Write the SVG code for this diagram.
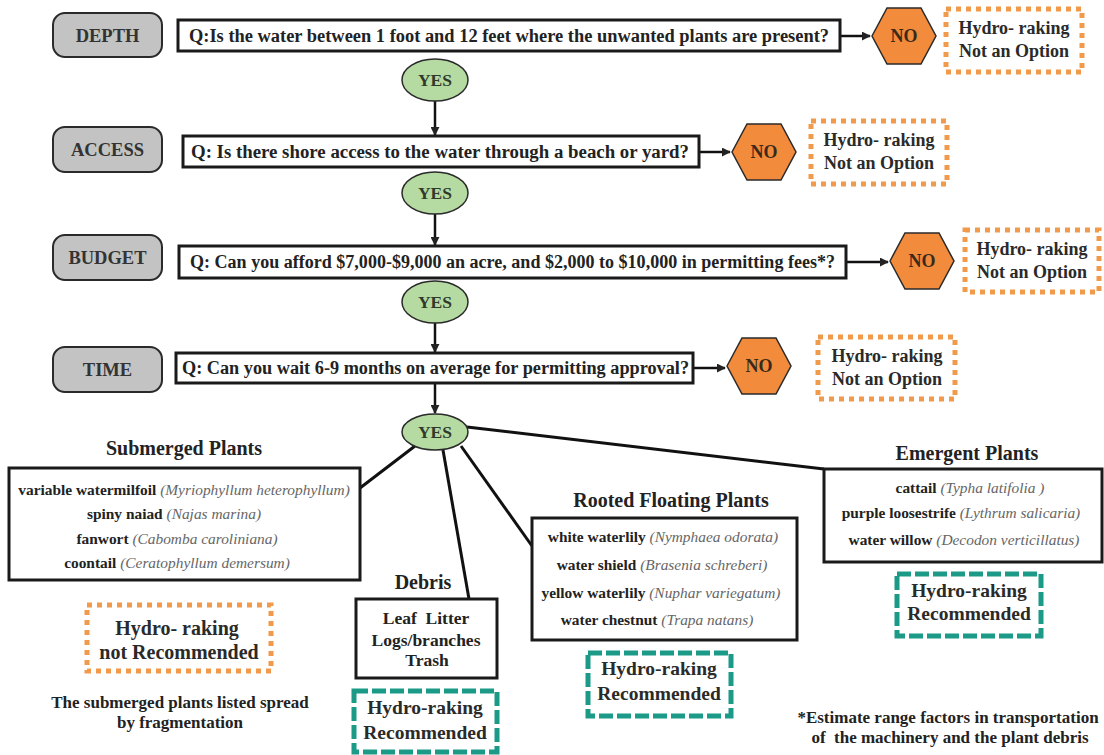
<svg xmlns="http://www.w3.org/2000/svg" width="1104" height="755" viewBox="0 0 1104 755" font-family="'Liberation Serif', 'Times New Roman', serif" font-weight="bold">
<defs>
<marker id="ah" viewBox="0 0 10 10" refX="9" refY="5" markerWidth="9" markerHeight="9" markerUnits="userSpaceOnUse" orient="auto">
<path d="M0,0 L10,5 L0,10 z" fill="#222"/>
</marker>
<style>
text{fill:#222}
.lbl{fill:#c3c3c3;stroke:#2a2a2a;stroke-width:2}
.lt{font-size:18.5px;text-anchor:middle;fill:#333}
.q{fill:#fff;stroke:#1a1a1a;stroke-width:3}
.qt{font-size:18px}
.yes{fill:#b6dba2;stroke:#2a2a2a;stroke-width:1.5}
.yt{font-size:17.5px;text-anchor:middle;fill:#2f3a2a}
.hex{fill:#f28b3c;stroke:#2a2a2a;stroke-width:1.5}
.nt{font-size:18px;text-anchor:middle;fill:#3a2a1a}
.dot{fill:#fff;stroke:#f29a4c;stroke-width:5;stroke-dasharray:5 5}
.dash{fill:#fff;stroke:#1c9a88;stroke-width:5;stroke-dasharray:14 4}
.ht{font-size:18px;text-anchor:middle;fill:#2a2a2a}
.tt{font-size:19.5px;text-anchor:middle;fill:#2a2a2a}
.box{fill:#fff;stroke:#1a1a1a;stroke-width:3}
.title{font-size:20px;text-anchor:middle}
.it{font-size:15.4px;text-anchor:middle}
.db{font-size:17.5px;text-anchor:middle}
.sci{font-style:italic;font-weight:normal;fill:#666}
.cap{font-size:17px;text-anchor:middle}
.con line{stroke:#111;stroke-width:2.5}
.con .br{stroke-width:3}
</style>
</defs>
<rect width="1104" height="755" fill="#fff"/>

<!-- connectors -->
<g id="connectors" class="con">
<line x1="840" y1="36" x2="870" y2="36" marker-end="url(#ah)"/>
<line x1="699" y1="152" x2="730" y2="152" marker-end="url(#ah)"/>
<line x1="846" y1="262" x2="888" y2="262" marker-end="url(#ah)"/>
<line x1="693" y1="368" x2="725" y2="368" marker-end="url(#ah)"/>
<line x1="435" y1="101" x2="435" y2="135" marker-end="url(#ah)"/>
<line x1="435" y1="214" x2="435" y2="245" marker-end="url(#ah)"/>
<line x1="435" y1="323" x2="435" y2="352" marker-end="url(#ah)"/>
<line x1="435" y1="384" x2="435" y2="413" marker-end="url(#ah)"/>
<line class="br" x1="415" y1="446" x2="360" y2="488"/>
<line class="br" x1="443" y1="450" x2="469" y2="599"/>
<line class="br" x1="461" y1="446" x2="532" y2="546"/>
<line class="br" x1="467" y1="427" x2="824" y2="469"/>
</g>

<!-- labels -->
<g id="lbl-depth"><rect class="lbl" x="53" y="13" width="109" height="44" rx="12"/><text class="lt" x="107.5" y="41.5">DEPTH</text></g>
<g id="lbl-access"><rect class="lbl" x="53" y="127" width="109" height="45" rx="12"/><text class="lt" x="107.5" y="155.5">ACCESS</text></g>
<g id="lbl-budget"><rect class="lbl" x="53" y="235" width="109" height="45" rx="12"/><text class="lt" x="107.5" y="263.5">BUDGET</text></g>
<g id="lbl-time"><rect class="lbl" x="53" y="347" width="109" height="45" rx="12"/><text class="lt" x="107.5" y="375.5">TIME</text></g>

<!-- questions -->
<g id="q-depth"><rect class="q" x="178" y="20" width="662" height="31"/><text class="qt" x="189" y="42" textLength="640" lengthAdjust="spacingAndGlyphs">Q:Is the water between 1 foot and 12 feet where the unwanted plants are present?</text></g>
<g id="q-access"><rect class="q" x="183" y="136" width="516" height="31"/><text class="qt" x="191" y="158" textLength="498" lengthAdjust="spacingAndGlyphs">Q: Is there shore access to the water through a beach or yard?</text></g>
<g id="q-budget"><rect class="q" x="179" y="246" width="667" height="32"/><text class="qt" x="190" y="268" textLength="645" lengthAdjust="spacingAndGlyphs">Q: Can you afford $7,000-$9,000 an acre, and $2,000 to $10,000 in permitting fees*?</text></g>
<g id="q-time"><rect class="q" x="176" y="353" width="517" height="30"/><text class="qt" x="182" y="374" textLength="507" lengthAdjust="spacingAndGlyphs">Q: Can you wait 6-9 months on average for permitting approval?</text></g>

<!-- yes -->
<g id="yes-1"><ellipse class="yes" cx="435" cy="80" rx="33" ry="21"/><text class="yt" x="435" y="86">YES</text></g>
<g id="yes-2"><ellipse class="yes" cx="435" cy="193" rx="33" ry="21"/><text class="yt" x="435" y="199">YES</text></g>
<g id="yes-3"><ellipse class="yes" cx="435" cy="302" rx="33" ry="21"/><text class="yt" x="435" y="308">YES</text></g>
<g id="yes-4"><ellipse class="yes" cx="435" cy="432" rx="33" ry="18"/><text class="yt" x="435" y="438">YES</text></g>

<!-- no hexagons -->
<g id="no-1"><polygon class="hex" points="872,36 887,8 921,8 936,36 921,64 887,64"/><text class="nt" x="904" y="42">NO</text></g>
<g id="no-2"><polygon class="hex" points="732,152 747,124 781,124 796,152 781,180 747,180"/><text class="nt" x="764" y="158">NO</text></g>
<g id="no-3"><polygon class="hex" points="890,261 905,233 939,233 954,261 939,289 905,289"/><text class="nt" x="922" y="267">NO</text></g>
<g id="no-4"><polygon class="hex" points="727,366 742,338 776,338 791,366 776,394 742,394"/><text class="nt" x="759" y="372">NO</text></g>

<!-- not an option -->
<g id="opt-1"><rect class="dot" x="946" y="9" width="136" height="63"/><text class="ht" x="1014" y="34">Hydro- raking</text><text class="ht" x="1014" y="57">Not an Option</text></g>
<g id="opt-2"><rect class="dot" x="811" y="121" width="136" height="63"/><text class="ht" x="879" y="146">Hydro- raking</text><text class="ht" x="879" y="169">Not an Option</text></g>
<g id="opt-3"><rect class="dot" x="965" y="230" width="134" height="62"/><text class="ht" x="1032" y="255">Hydro- raking</text><text class="ht" x="1032" y="278">Not an Option</text></g>
<g id="opt-4"><rect class="dot" x="818" y="337" width="137" height="62"/><text class="ht" x="887" y="362">Hydro- raking</text><text class="ht" x="887" y="385">Not an Option</text></g>

<!-- submerged -->
<g id="submerged">
<text class="title" x="184" y="455">Submerged Plants</text>
<rect class="box" x="9" y="468" width="351" height="112"/>
<text class="it" x="184" y="495">variable watermilfoil <tspan class="sci">(Myriophyllum heterophyllum)</tspan></text>
<text class="it" x="174" y="519">spiny naiad <tspan class="sci">(Najas marina)</tspan></text>
<text class="it" x="177" y="544">fanwort <tspan class="sci">(Cabomba caroliniana)</tspan></text>
<text class="it" x="177" y="568">coontail <tspan class="sci">(Ceratophyllum demersum)</tspan></text>
</g>
<g id="sub-rec"><rect class="dot" x="87" y="605" width="184" height="66"/><text class="ht" x="177" y="635" style="font-size:20px">Hydro- raking</text><text class="ht" x="179" y="659" style="font-size:20px">not Recommended</text></g>
<g id="sub-caption"><text class="cap" x="180" y="708">The submerged plants listed spread</text><text class="cap" x="180" y="728">by fragmentation</text></g>

<!-- debris -->
<g id="debris">
<text class="title" x="423" y="589">Debris</text>
<rect class="box" x="356" y="599" width="141" height="79"/>
<text class="db" x="426" y="624" xml:space="preserve">Leaf  Litter</text>
<text class="db" x="426" y="646">Logs/branches</text>
<text class="db" x="427" y="666">Trash</text>
</g>
<g id="debris-rec"><rect class="dash" x="354" y="691" width="143" height="61"/><text class="tt" x="425" y="714">Hydro-raking</text><text class="tt" x="425" y="739">Recommended</text></g>

<!-- rooted floating -->
<g id="rooted">
<text class="title" x="671" y="507">Rooted Floating Plants</text>
<rect class="box" x="532" y="518" width="265" height="122"/>
<text class="it" x="663" y="542">white waterlily <tspan class="sci">(Nymphaea odorata)</tspan></text>
<text class="it" x="662" y="570">water shield <tspan class="sci">(Brasenia schreberi)</tspan></text>
<text class="it" x="661" y="598">yellow waterlily <tspan class="sci">(Nuphar variegatum)</tspan></text>
<text class="it" x="657" y="625">water chestnut <tspan class="sci">(Trapa natans)</tspan></text>
</g>
<g id="rooted-rec"><rect class="dash" x="588" y="653" width="143" height="63"/><text class="tt" x="659" y="675">Hydro-raking</text><text class="tt" x="659" y="700">Recommended</text></g>

<!-- emergent -->
<g id="emergent">
<text class="title" x="967" y="460">Emergent Plants</text>
<rect class="box" x="824" y="469" width="278" height="93"/>
<text class="it" x="970" y="493">cattail <tspan class="sci">(Typha latifolia )</tspan></text>
<text class="it" x="961" y="518">purple loosestrife <tspan class="sci">(Lythrum salicaria)</tspan></text>
<text class="it" x="964" y="545">water willow <tspan class="sci">(Decodon verticillatus)</tspan></text>
</g>
<g id="emergent-rec"><rect class="dash" x="897" y="574" width="144" height="62"/><text class="tt" x="969" y="597">Hydro-raking</text><text class="tt" x="969" y="620">Recommended</text></g>

<g id="footnote"><text class="cap" x="948" y="723">*Estimate range factors in transportation</text><text class="cap" x="950" y="743" xml:space="preserve">of  the machinery and the plant debris</text></g>
</svg>
